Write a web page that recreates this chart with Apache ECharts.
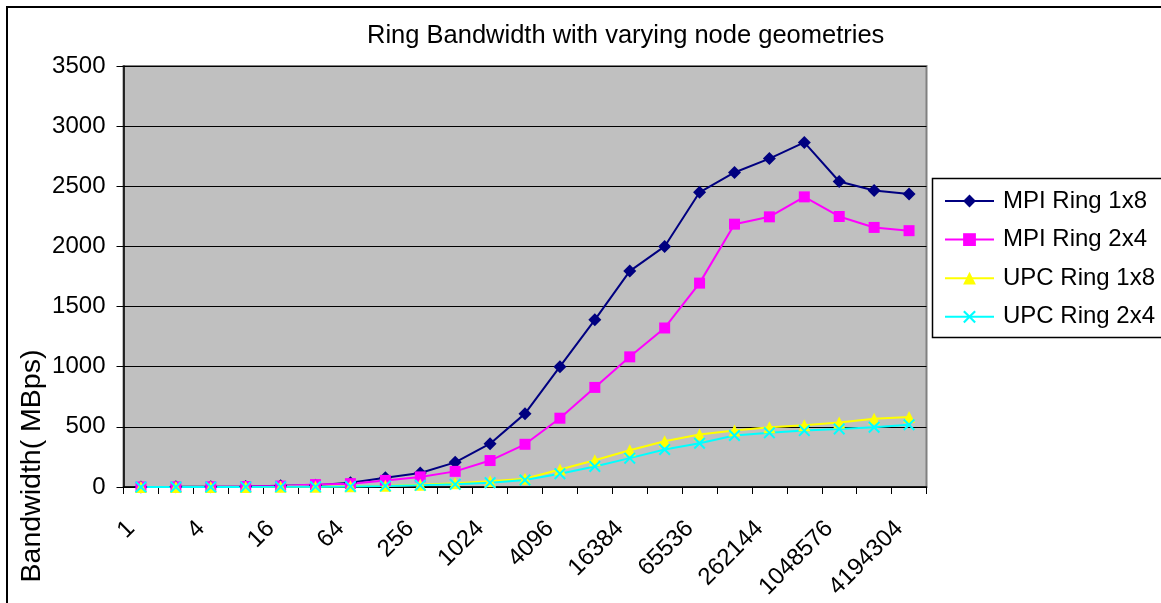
<!DOCTYPE html>
<html>
<head>
<meta charset="utf-8">
<script src="https://cdn.jsdelivr.net/npm/echarts@6/dist/echarts.min.js"></script>
<style>
  html, body { margin: 0; padding: 0; background: #ffffff; }
  #chart { width: 1161px; height: 603px; }
</style>
</head>
<body>
<div id="chart"></div>
<script>
// Message size (bytes) on the category axis
const messageSizes = ['1', '2', '4', '8', '16', '32', '64', '128', '256', '512', '1024', '2048',
  '4096', '8192', '16384', '32768', '65536', '131072', '262144', '524288', '1048576', '2097152', '4194304'];

// Bandwidth in MBps for each ring configuration
const mpiRing1x8 = [0.6, 1.2, 2.5, 5, 10, 15, 36, 76, 116, 205, 360, 610, 1000, 1390, 1795, 2000, 2450, 2615, 2730, 2865, 2540, 2465, 2435];
const mpiRing2x4 = [0.5, 1, 2, 4, 8, 20, 28, 55, 84, 130, 220, 355, 572, 828, 1082, 1322, 1695, 2185, 2246, 2412, 2249, 2158, 2131];
const upcRing1x8 = [0.1, 0.2, 0.4, 0.8, 1.5, 3, 6, 11, 18, 32, 47, 68, 145, 222, 305, 380, 436, 470, 497, 514, 537, 567, 582];
const upcRing2x4 = [0.1, 0.2, 0.3, 0.6, 1.2, 2.5, 5, 9, 14, 22, 36, 58, 111, 171, 240, 312, 364, 428, 450, 469, 483, 497, 517];

const yTicks = { min: 0, max: 3500, interval: 500 };

const FONT = '"Liberation Sans", Arial, Helvetica, sans-serif';

// Filled cross used as the marker for the 2x4 UPC series
const CROSS = 'path://M0,1.2L1.2,0L5,3.8L8.8,0L10,1.2L6.2,5L10,8.8L8.8,10L5,6.2L1.2,10L0,8.8L3.8,5Z';

const chart = echarts.init(document.getElementById('chart'), null, { renderer: 'canvas' });

function lineSeries(name, data, color, symbol, size) {
  return {
    name: name,
    type: 'line',
    data: data,
    symbol: symbol,
    symbolSize: size,
    showAllSymbol: true,
    lineStyle: { color: color, width: 2 },
    itemStyle: { color: color, borderWidth: 0 },
    emphasis: { disabled: true },
    animation: false
  };
}

chart.setOption({
  animation: false,
  backgroundColor: '#ffffff',
  textStyle: { fontFamily: FONT },
  title: {
    text: 'Ring Bandwidth with varying node geometries',
    left: 367,
    top: 23,
    padding: 0,
    textStyle: { fontFamily: FONT, fontSize: 25.5, fontWeight: 'normal', color: '#000000' }
  },
  graphic: [
    {
      type: 'rect',
      z: -10,
      shape: { x: 7, y: 7, width: 1300, height: 800 },
      style: { fill: 'none', stroke: '#000000', lineWidth: 2 },
      silent: true
    },
    {
      type: 'rect',
      z: 0,
      shape: { x: 932.5, y: 178.5, width: 300, height: 159 },
      style: { fill: '#ffffff', stroke: '#000000', lineWidth: 1.5 },
      silent: true
    },
    {
      type: 'text',
      x: 32,
      y: 466,
      rotation: Math.PI / 2,
      style: {
        text: 'Bandwidth( MBps)',
        font: '28.5px ' + FONT,
        fill: '#000000',
        align: 'center',
        verticalAlign: 'middle'
      },
      silent: true
    }
  ],
  legend: {
    orient: 'vertical',
    left: 944,
    top: 189,
    padding: 0,
    z: 10,
    itemWidth: 49,
    itemHeight: 16,
    itemGap: 14.6,
    selectedMode: false,
    textStyle: { fontFamily: FONT, fontSize: 24, color: '#000000', padding: [0, 0, 0, 4] },
    data: ['MPI Ring 1x8', 'MPI Ring 2x4', 'UPC Ring 1x8', 'UPC Ring 2x4']
  },
  grid: {
    left: 123.5,
    right: 234.5,
    top: 66,
    bottom: 116,
    containLabel: false,
    outerBoundsMode: 'none',
    show: true,
    backgroundColor: '#c0c0c0',
    borderColor: '#808080',
    borderWidth: 2
  },
  xAxis: {
    type: 'category',
    data: messageSizes,
    boundaryGap: true,
    axisLine: { show: true, lineStyle: { color: '#000000', width: 1.5 } },
    axisTick: { show: true, interval: 0, length: 7, inside: false, lineStyle: { color: '#000000', width: 1 } },
    axisLabel: {
      interval: 1,
      rotate: 45,
      margin: 28,
      padding: [0, 14, 0, 0],
      fontFamily: FONT,
      fontSize: 24,
      color: '#000000'
    },
    splitLine: { show: false }
  },
  yAxis: {
    type: 'value',
    min: yTicks.min,
    max: yTicks.max,
    interval: yTicks.interval,
    axisLine: { show: true, lineStyle: { color: '#000000', width: 1.5 } },
    axisTick: { show: true, length: 7, inside: false, lineStyle: { color: '#000000', width: 1 } },
    axisLabel: {
      margin: 18,
      fontFamily: FONT,
      fontSize: 24,
      color: '#000000',
      formatter: function (v) { return String(v); }
    },
    splitLine: { show: true, lineStyle: { color: '#000000', width: 1 } }
  },
  series: [
    lineSeries('MPI Ring 1x8', mpiRing1x8, '#000080', 'diamond', 13),
    lineSeries('MPI Ring 2x4', mpiRing2x4, '#ff00ff', 'rect', 11),
    lineSeries('UPC Ring 1x8', upcRing1x8, '#ffff00', 'triangle', 12),
    lineSeries('UPC Ring 2x4', upcRing2x4, '#00ffff', CROSS, 12)
  ]
});
</script>
</body>
</html>
